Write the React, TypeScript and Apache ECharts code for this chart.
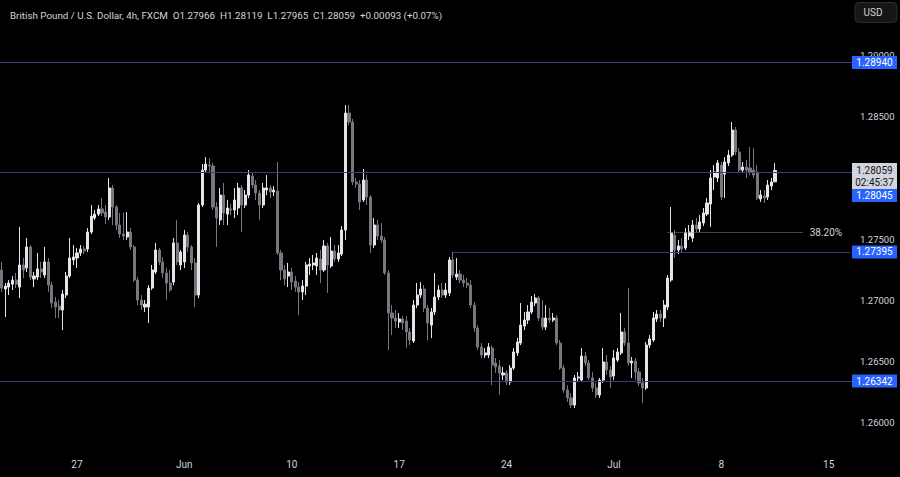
import React, { useEffect, useRef } from "react";
import * as echarts from "echarts";

// ---- data (GBP/USD 4h candles) ----
const opens = [
  1.27247,1.27092,1.27108,1.27132,1.27165,1.27108,1.27288,1.27264,1.27435,1.27174,
  1.27190,1.27256,1.27206,1.27313,1.27124,1.26986,1.26953,1.26921,1.27043,1.27198,
  1.27329,1.27345,1.27386,1.27419,1.27419,1.27557,1.27671,1.27703,1.27745,1.27720,
  1.27679,1.27916,1.27761,1.27614,1.27540,1.27516,1.27557,1.27435,1.27165,1.27002,
  1.26945,1.26945,1.27100,1.27231,1.27410,1.27313,1.27223,1.27141,1.27149,1.27468,
  1.27288,1.27313,1.27532,1.27435,1.27305,1.27043,1.27777,1.28062,1.28103,1.28095,
  1.27761,1.27655,1.27858,1.27703,1.27745,1.27736,1.27753,1.27916,1.27777,1.27858,
  1.28013,1.27940,1.27875,1.27777,1.27899,1.27916,1.27883,1.27891,1.27386,1.27247,
  1.27198,1.27231,1.27157,1.27108,1.27068,1.27116,1.27280,1.27288,1.27280,1.27337,
  1.27247,1.27443,1.27280,1.27402,1.27337,1.27377,1.27573,1.28527,1.28454,1.27965,
  1.27948,1.27818,1.27981,1.27842,1.27451,1.27614,1.27524,1.27492,1.27223,1.26897,
  1.26856,1.26823,1.26848,1.26831,1.26742,1.26668,1.26961,1.27043,1.27092,1.26937,
  1.26798,1.26905,1.27027,1.27084,1.27043,1.27060,1.27329,1.27190,1.27214,1.27165,
  1.27141,1.27124,1.26961,1.26774,1.26619,1.26554,1.26554,1.26611,1.26489,1.26464,
  1.26391,1.26408,1.26334,1.26448,1.26571,1.26652,1.26790,1.26839,1.26905,1.26978,
  1.27019,1.26856,1.26782,1.26856,1.26839,1.26856,1.26652,1.26448,1.26269,1.26204,
  1.26146,1.26367,1.26350,1.26546,1.26489,1.26367,1.26285,1.26228,1.26350,1.26497,
  1.26432,1.26383,1.26513,1.26571,1.26742,1.26652,1.26489,1.26505,1.26416,1.26326,
  1.26285,1.26635,1.26676,1.26848,1.26888,1.26856,1.26945,1.27165,1.27532,1.27410,
  1.27443,1.27427,1.27524,1.27508,1.27614,1.27582,1.27631,1.27703,1.27785,1.28005,
  1.27997,1.28103,1.28029,1.28120,1.28184,1.28388,1.28209,1.28062,1.28087,1.28079,
  1.28062,1.28046,1.27826,1.27850,1.27842,1.27932,1.27966,
];

const closes = [
  1.27100,1.27116,1.27141,1.27165,1.27132,1.27288,1.27247,1.27435,1.27190,1.27198,
  1.27256,1.27231,1.27313,1.27124,1.26978,1.26945,1.26921,1.27051,1.27198,1.27345,
  1.27353,1.27386,1.27419,1.27402,1.27557,1.27687,1.27703,1.27745,1.27712,1.27679,
  1.27916,1.27761,1.27614,1.27540,1.27524,1.27557,1.27435,1.27165,1.27002,1.26961,
  1.26969,1.27100,1.27247,1.27410,1.27313,1.27223,1.27141,1.27084,1.27468,1.27313,
  1.27394,1.27532,1.27435,1.27305,1.27043,1.27777,1.28062,1.28111,1.28095,1.27761,
  1.27671,1.27858,1.27712,1.27753,1.27736,1.27818,1.27916,1.27777,1.27858,1.28021,
  1.27940,1.27875,1.27777,1.27916,1.27916,1.27883,1.27899,1.27386,1.27247,1.27174,
  1.27231,1.27149,1.27108,1.27068,1.27116,1.27288,1.27296,1.27305,1.27345,1.27247,
  1.27443,1.27288,1.27402,1.27337,1.27386,1.27573,1.28527,1.28454,1.27965,1.27948,
  1.27802,1.27981,1.27842,1.27451,1.27614,1.27524,1.27492,1.27223,1.26897,1.26856,
  1.26831,1.26848,1.26815,1.26742,1.26676,1.26961,1.27043,1.27092,1.26937,1.26815,
  1.26905,1.27027,1.27084,1.27043,1.27084,1.27329,1.27206,1.27214,1.27165,1.27141,
  1.27124,1.26961,1.26774,1.26619,1.26554,1.26571,1.26619,1.26472,1.26456,1.26408,
  1.26408,1.26334,1.26448,1.26579,1.26660,1.26798,1.26839,1.26905,1.26986,1.27019,
  1.26856,1.26782,1.26856,1.26839,1.26856,1.26652,1.26448,1.26269,1.26204,1.26146,
  1.26367,1.26375,1.26546,1.26489,1.26367,1.26285,1.26228,1.26350,1.26497,1.26432,
  1.26375,1.26530,1.26579,1.26742,1.26652,1.26489,1.26505,1.26416,1.26326,1.26285,
  1.26635,1.26685,1.26856,1.26888,1.26856,1.26961,1.27182,1.27549,1.27410,1.27443,
  1.27419,1.27549,1.27557,1.27614,1.27582,1.27639,1.27712,1.27794,1.27997,1.28046,
  1.28120,1.27842,1.28128,1.28184,1.28388,1.28209,1.28062,1.28087,1.28062,1.28046,
  1.28021,1.27834,1.27858,1.27834,1.27940,1.27965,1.28059,
];

const lows = [
  1.27068,1.26864,1.27043,1.27084,1.27100,1.27019,1.27182,1.27231,1.27165,1.27108,
  1.27165,1.27182,1.27182,1.27068,1.26937,1.26856,1.26856,1.26758,1.27019,1.27182,
  1.27288,1.27264,1.27361,1.27377,1.27394,1.27540,1.27655,1.27687,1.27687,1.27622,
  1.27655,1.27614,1.27573,1.27508,1.27492,1.27492,1.27410,1.27149,1.26961,1.26921,
  1.26905,1.26815,1.27084,1.27214,1.27288,1.27182,1.27002,1.27068,1.27124,1.27288,
  1.27247,1.27264,1.27394,1.27247,1.26945,1.27019,1.27761,1.28046,1.28046,1.27736,
  1.27435,1.27614,1.27614,1.27614,1.27695,1.27671,1.27695,1.27557,1.27753,1.27834,
  1.27916,1.27818,1.27655,1.27753,1.27858,1.27834,1.27850,1.27369,1.27165,1.27124,
  1.27108,1.27084,1.27068,1.26880,1.27002,1.27043,1.27206,1.27247,1.27206,1.27141,
  1.27231,1.27060,1.27264,1.27313,1.27313,1.27361,1.27492,1.28429,1.27940,1.27916,
  1.27736,1.27802,1.27777,1.27386,1.27427,1.27492,1.27468,1.27206,1.26595,1.26717,
  1.26774,1.26774,1.26758,1.26611,1.26635,1.26652,1.26937,1.27019,1.26905,1.26676,
  1.26693,1.26880,1.27002,1.27019,1.27019,1.27035,1.27182,1.27165,1.27141,1.27108,
  1.27100,1.26937,1.26742,1.26595,1.26530,1.26530,1.26530,1.26309,1.26408,1.26228,
  1.26350,1.26309,1.26309,1.26432,1.26546,1.26635,1.26758,1.26806,1.26888,1.26953,
  1.26831,1.26758,1.26758,1.26815,1.26823,1.26635,1.26432,1.26245,1.26171,1.26122,
  1.26122,1.26334,1.26334,1.26464,1.26350,1.26253,1.26204,1.26204,1.26326,1.26391,
  1.26285,1.26350,1.26497,1.26554,1.26627,1.26464,1.26367,1.26350,1.26301,1.26163,
  1.26269,1.26611,1.26660,1.26823,1.26823,1.26782,1.26921,1.27149,1.27345,1.27377,
  1.27394,1.27410,1.27492,1.27476,1.27557,1.27557,1.27606,1.27687,1.27598,1.27899,
  1.27965,1.27818,1.27834,1.28095,1.28168,1.28184,1.28038,1.28046,1.27997,1.28021,
  1.27997,1.27818,1.27802,1.27794,1.27818,1.27899,1.27965,
];

const highs = [
  1.27313,1.27141,1.27165,1.27198,1.27223,1.27598,1.27345,1.27508,1.27451,1.27231,
  1.27386,1.27313,1.27435,1.27345,1.27149,1.27027,1.27002,1.27084,1.27231,1.27508,
  1.27451,1.27427,1.27451,1.27443,1.27590,1.27777,1.27736,1.27777,1.27834,1.27777,
  1.27997,1.27940,1.27777,1.27712,1.27712,1.27720,1.27590,1.27451,1.27190,1.27043,
  1.27002,1.27124,1.27288,1.27468,1.27427,1.27353,1.27264,1.27247,1.27508,1.27655,
  1.27410,1.27573,1.27557,1.27451,1.27345,1.27794,1.28111,1.28168,1.28160,1.28120,
  1.27802,1.27916,1.27957,1.27818,1.27785,1.27916,1.27957,1.27940,1.27899,1.28062,
  1.28046,1.27981,1.27899,1.27957,1.28021,1.27940,1.27932,1.28128,1.27410,1.27288,
  1.27305,1.27264,1.27198,1.27149,1.27165,1.27313,1.27345,1.27369,1.27386,1.27410,
  1.27492,1.27468,1.27516,1.27451,1.27451,1.27606,1.28592,1.28592,1.28478,1.27997,
  1.27981,1.28071,1.28021,1.27858,1.27671,1.27655,1.27631,1.27516,1.27247,1.26961,
  1.26921,1.26897,1.26872,1.26872,1.26774,1.27002,1.27141,1.27149,1.27124,1.26961,
  1.26937,1.27223,1.27124,1.27141,1.27141,1.27353,1.27395,1.27345,1.27247,1.27206,
  1.27182,1.27165,1.26986,1.26798,1.26652,1.26611,1.26652,1.26635,1.26530,1.26513,
  1.26456,1.26432,1.26472,1.26611,1.26693,1.26978,1.26905,1.26961,1.27035,1.27051,
  1.27035,1.27002,1.26961,1.26937,1.26897,1.26880,1.26676,1.26472,1.26309,1.26245,
  1.26391,1.26416,1.26611,1.26579,1.26513,1.26416,1.26326,1.26367,1.26611,1.26554,
  1.26464,1.26595,1.26611,1.26897,1.26774,1.27100,1.26538,1.26530,1.26448,1.26367,
  1.26660,1.26717,1.26905,1.26921,1.26921,1.27002,1.27206,1.27761,1.27573,1.27492,
  1.27508,1.27590,1.27614,1.27655,1.27671,1.27695,1.27753,1.27834,1.28062,1.28103,
  1.28144,1.28128,1.28168,1.28225,1.28453,1.28413,1.28242,1.28128,1.28144,1.28250,
  1.28242,1.28103,1.27899,1.27899,1.27981,1.27997,1.28119,
];

// time axis: 30 four-hour bars per trading week, label at each week start
const weekLabels = ["27", "Jun", "10", "17", "24", "Jul", "8", "15"];
const firstWeekBar = 21;
const barsPerWeek = 30;
const totalSlots = 238;

// price axis
const yTicks = [1.26, 1.265, 1.27, 1.275, 1.285, 1.29];

// horizontal levels drawn on the chart
const levelPrices = [1.2894, 1.28045, 1.27395, 1.26342];
const levelStartBars = [null, null, 126, null];

// fibonacci 38.2% retracement
const fibPrice = 1.27557;
const fibLabel = "38.20%";
const fibStartBar = 186;
const fibEndBar = 224;

const lastPrice = 1.28059;
const countdown = "02:45:37";
const headerText =
  "British Pound / U.S. Dollar, 4h, FXCM  O1.27966  H1.28119  L1.27965  C1.28059  +0.00093 (+0.07%)";
const currencyText = "USD";

const FONT = 'Roboto, "Noto Sans", sans-serif';
const W = 900;
const GRID_RIGHT = 48;
const LINE_COLOR = "#343b88";
const BLUE = "#2962ff";
const TEXT = "#d1d4dc";

export default function App() {
  const ref = useRef<HTMLDivElement>(null);

  useEffect(() => {
    document.body.style.margin = "0";
    document.body.style.background = "#000";
    const el = ref.current!;
    const chart = echarts.init(el, null, { renderer: "svg" });

    const categories = Array.from({ length: totalSlots }, (_, i) => String(i));
    const candles = closes.map((c, i) => [opens[i], c, lows[i], highs[i]]);
    const lastSlot = totalSlots - 1;
    const levelStyle = { color: LINE_COLOR, width: 1, type: "solid" };

    const markData: any[] = [];
    levelPrices.forEach((p, i) => {
      const s = levelStartBars[i];
      if (s === null) markData.push({ yAxis: p, lineStyle: levelStyle });
      else markData.push([{ coord: [s, p], lineStyle: levelStyle }, { coord: [lastSlot, p] }]);
    });
    markData.push([
      {
        coord: [fibStartBar, fibPrice],
        lineStyle: { color: "#8a8a8a", type: "dotted", width: 1 },
        label: {
          show: true,
          position: "end",
          formatter: fibLabel,
          color: TEXT,
          fontSize: 10,
          fontFamily: FONT,
          distance: 6,
        },
      },
      { coord: [fibEndBar, fibPrice] },
    ]);

    chart.setOption({
      animation: false,
      backgroundColor: "#000000",
      textStyle: { fontFamily: FONT },
      title: {
        text: headerText,
        left: 5,
        top: 5,
        textStyle: { color: TEXT, fontSize: 9.8, fontWeight: "normal", fontFamily: FONT },
      },
      grid: { left: 0, right: GRID_RIGHT, top: 30.5, bottom: 29.5 },
      xAxis: {
        type: "category",
        data: categories,
        boundaryGap: true,
        axisLine: { show: false },
        axisTick: { show: false },
        splitLine: { show: false },
        axisLabel: {
          color: TEXT,
          fontSize: 10,
          fontFamily: FONT,
          margin: 12,
          interval: (index: number) =>
            index >= firstWeekBar && (index - firstWeekBar) % barsPerWeek === 0,
          formatter: (_v: string, index: number) => {
            const k = (index - firstWeekBar) / barsPerWeek;
            return Number.isInteger(k) && weekLabels[k] ? weekLabels[k] : "";
          },
        },
      },
      yAxis: {
        type: "value",
        position: "right",
        min: 1.258,
        max: 1.292,
        splitLine: { show: false },
        axisLine: { show: false },
        axisTick: { show: false },
        axisLabel: {
          customValues: yTicks,
          color: TEXT,
          fontSize: 9.5,
          fontFamily: FONT,
          margin: 8,
          formatter: (v: number) => v.toFixed(5),
        },
      },
      series: [
        {
          type: "candlestick",
          data: candles,
          barWidth: "72%",
          itemStyle: {
            color: "#e4e4e9",
            color0: "#77777f",
            borderColor: "#e4e4e9",
            borderColor0: "#77777f",
            borderWidth: 1,
          },
          markLine: {
            silent: true,
            precision: 5,
            symbol: ["none", "none"],
            label: { show: false },
            lineStyle: levelStyle,
            data: markData,
          },
        },
      ],
    });

    // price tags on the right, positioned through the y axis scale
    const yOf = (p: number) => chart.convertToPixel({ yAxisIndex: 0 }, p) as number;
    const plotRight = W - GRID_RIGHT;
    const boxW = 45;
    const els: any[] = [];
    const txt = (x: number, y: number, s: string, fill: string, size = 10) => ({
      type: "text",
      z: 101,
      x,
      y,
      style: {
        text: s,
        fill,
        fontSize: size,
        fontFamily: FONT,
        align: "center",
        verticalAlign: "middle",
        textAlign: "center",
        textVerticalAlign: "middle",
      },
    });
    const yc = yOf(lastPrice);
    levelPrices.forEach((p) => {
      let cy = yOf(p);
      if (Math.abs(cy - yc) < 20) cy = yc + 25;
      els.push({
        type: "rect",
        z: 100,
        shape: { x: plotRight, y: cy - 6.5, width: boxW, height: 13 },
        style: { fill: BLUE },
      });
      els.push(txt(plotRight + boxW / 2, cy, p.toFixed(5), "#ffffff"));
    });
    els.push({
      type: "rect",
      z: 100,
      shape: { x: plotRight, y: yc - 7.5, width: boxW, height: 26 },
      style: { fill: "#d1d4dc" },
    });
    els.push(txt(plotRight + boxW / 2, yc, lastPrice.toFixed(5), "#131722"));
    els.push(txt(plotRight + boxW / 2, yc + 12, countdown, "#131722"));
    // currency button
    els.push({
      type: "rect",
      z: 100,
      shape: { x: 855, y: 2.5, width: 42, height: 20, r: 4 },
      style: { fill: "#161616", stroke: "#2c2c2c", lineWidth: 1 },
    });
    els.push(txt(873, 12.5, currencyText, TEXT, 10));

    chart.setOption({ graphic: els });

    return () => chart.dispose();
  }, []);

  return (
    <div
      ref={ref}
      style={{ position: "absolute", left: 0, top: 0, width: 900, height: 477, background: "#000" }}
    />
  );
}
